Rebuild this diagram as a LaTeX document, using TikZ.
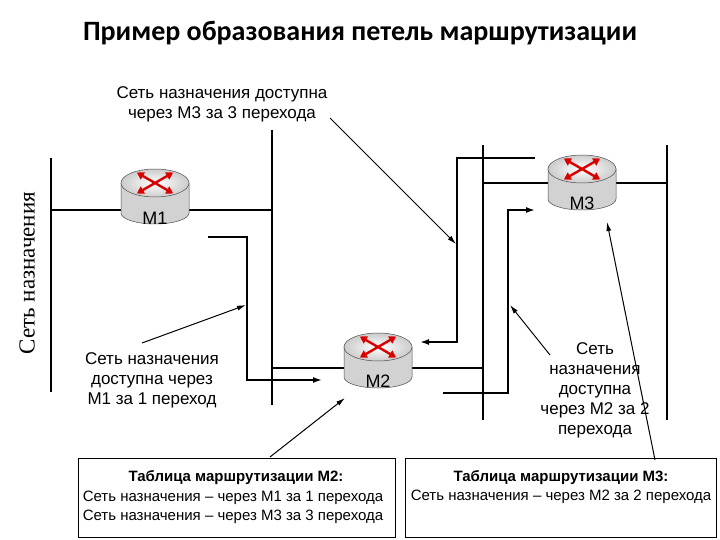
\documentclass[tikz,border=0pt]{standalone}
\usepackage{fontspec}
\setmainfont{Liberation Sans}
\newfontfamily\titlefont{Carlito}
\newfontfamily\serifcyr{Liberation Serif}
\usetikzlibrary{arrows.meta}
\begin{document}
\begin{tikzpicture}[x=1pt,y=-1pt,
  bus/.style={line width=1.6pt},
  path/.style={line width=1.6pt},
  note/.style={line width=1pt,-{Latex[length=9pt,width=5pt]}},
  txt/.style={font=\fontsize{17}{20}\selectfont,align=center},
  rl/.style={font=\fontsize{18}{20}\selectfont},
  tbl/.style={draw,line width=1pt,minimum height=79pt,anchor=north west},
  rtr/.pic={
    \fill[gray!35] (-34,0) -- (-34,30) arc[start angle=180,end angle=0,x radius=34,y radius=11] -- (34,0) -- cycle;
    \draw[gray!60!black,line width=0.5pt] (-34,0) -- (-34,30) arc[start angle=180,end angle=0,x radius=34,y radius=11] -- (34,0);
    \shade[inner color=white,outer color=gray!40,draw=gray!60!black,line width=0.5pt] (0,0) ellipse[x radius=34,y radius=14];
    \foreach \a in {30,150,210,330}{
      \draw[red!85!black,line width=2.4pt,-{Triangle[length=7pt,width=8pt]}] (0,0) -- ++(\a:{21});
    }
  }]
\useasboundingbox (0,0) rectangle (720,540);
\fill[white] (0,0) rectangle (720,540);
\node[font=\titlefont\bfseries\fontsize{28}{32}\selectfont] (title) at (360,33) {Пример образования петель маршрутизации};
\node[rotate=90,font=\serifcyr\fontsize{23}{26}\selectfont] (vlab) at (27,273) {Сеть назначения};
% buses
\coordinate (b1t) at (51,158); \coordinate (b1b) at (51,392);
\coordinate (b2t) at (272,130); \coordinate (b2b) at (272,405);
\coordinate (b3t) at (483,145); \coordinate (b3b) at (483,420);
\coordinate (b4t) at (667,145); \coordinate (b4b) at (667,420);
\draw[bus] (b1t) -- (b1b); \draw[bus] (b2t) -- (b2b);
\draw[bus] (b3t) -- (b3b); \draw[bus] (b4t) -- (b4b);
\draw[bus] (51,210) -- (272,210);
\draw[bus] (272,368) -- (483,368);
\draw[bus] (483,183) -- (667,183);
% routers
\pic at (155,183) {rtr}; \node[rl] (m1) at (155,218) {M1};
\pic at (378,347) {rtr}; \node[rl] (m2) at (378,381) {M2};
\pic at (582,169) {rtr}; \node[rl] (m3) at (582,203) {M3};
% route paths
\coordinate (p1s) at (208,237); \coordinate (p1e) at (322,380);
\draw[path,-{Latex[length=9pt,width=6pt]}] (p1s) -- (247,237) -- (247,380) -- (p1e);
\coordinate (p2s) at (535,158); \coordinate (p2e) at (420,342);
\draw[path,-{Latex[length=9pt,width=6pt]}] (p2s) -- (457,158) -- (457,342) -- (p2e);
\coordinate (p3s) at (443,393); \coordinate (p3e) at (535,210);
\draw[path,-{Latex[length=9pt,width=6pt]}] (p3s) -- (508,393) -- (508,210) -- (p3e);
% notes
\node[txt] (n1) at (222,104) {Сеть назначения доступна\\через М3 за 3 перехода};
\node[txt] (n2) at (152,380) {Сеть назначения\\доступна через\\М1 за 1 переход};
\node[txt] (n3) at (595,390) {Сеть\\назначения\\доступна\\через М2 за 2\\перехода};
\coordinate (a1s) at (330,118); \coordinate (a1e) at (456,244);
\coordinate (a2s) at (142,343); \coordinate (a2e) at (246,305);
\coordinate (a3s) at (550,355); \coordinate (a3e) at (510,305);
\coordinate (a4s) at (655,460); \coordinate (a4e) at (607,222);
\coordinate (a5s) at (270,457); \coordinate (a5e) at (345,398);
\draw[note] (a1s) -- (a1e);
\draw[note] (a2s) -- (a2e);
\draw[note] (a3s) -- (a3e);
\draw[note] (a4s) -- (a4e);
\draw[note] (a5s) -- (a5e);
% tables
\node[tbl,minimum width=317pt] (t1) at (78,458) {};
\node[tbl,minimum width=311pt] (t2) at (405,458) {};
\node[font=\bfseries\fontsize{15}{18}\selectfont] at (236,478) {Таблица маршрутизации М2:};
\node[font=\fontsize{15}{19}\selectfont,align=center] at (233,507) {Сеть назначения -- через М1 за 1 перехода\\Сеть назначения -- через М3 за 3 перехода};
\node[font=\bfseries\fontsize{15}{18}\selectfont] at (561,478) {Таблица маршрутизации М3:};
\node[font=\fontsize{15}{18}\selectfont] at (561,497) {Сеть назначения -- через М2 за 2 перехода};
\end{tikzpicture}
\end{document}
